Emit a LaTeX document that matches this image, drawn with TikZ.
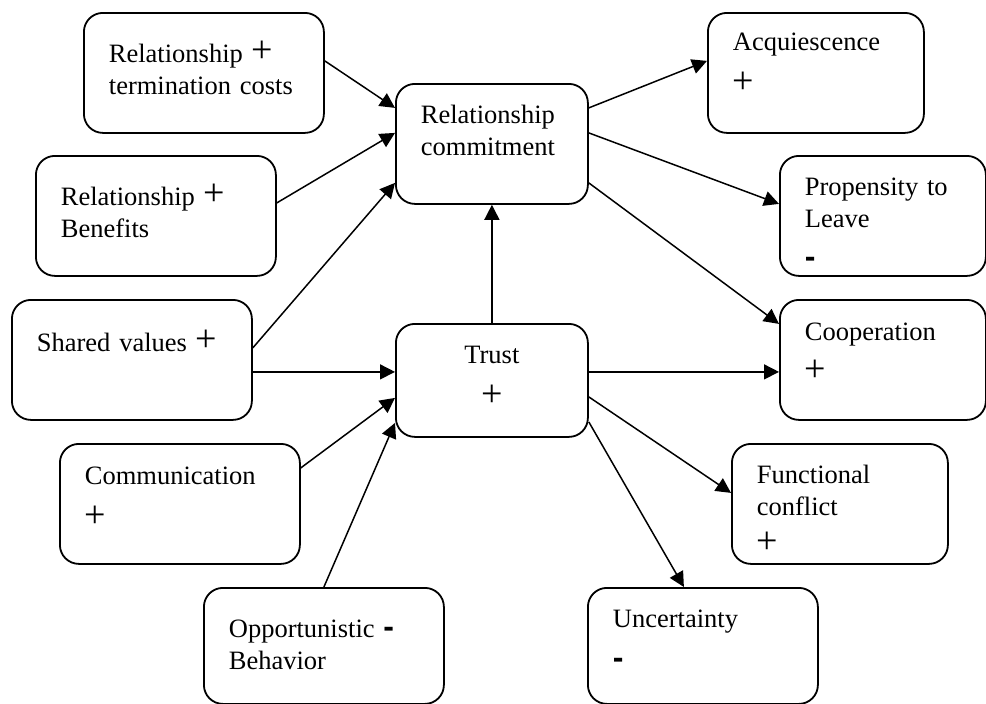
\documentclass[tikz,border=0pt]{standalone}
\usepackage{fontspec}
\setmainfont{Liberation Serif}
\newfontfamily\dashfont{Liberation Sans}
\usepackage{tikz}
\usetikzlibrary{arrows.meta}
\newcommand{\plussign}{{\fontsize{38}{38}\selectfont +}}
\newcommand{\minussign}{{\dashfont\bfseries\fontsize{32}{32}\selectfont -}}

\begin{document}
\begin{tikzpicture}[x=1pt, y=-1pt,
  factor/.style n args={3}{draw, line width=1.8pt, rounded corners=19pt, anchor=north west,
    align=left, inner xsep=25pt, inner ysep=0pt, text width={#1-50}, text height=#3,
    text depth={#2-#3}, font=\fontsize{26.5}{32}\selectfont},
  link/.style={line width=1.5pt, -{Triangle[length=15pt,width=15pt]}}]
\useasboundingbox (0,0) rectangle (986,704);
\node[factor={240}{120}{50}] (termcost) at (83,12) {Relationship \plussign\\termination costs};
\node[factor={240}{120}{50}] (benefits) at (35,155) {Relationship \plussign\\Benefits};
\node[factor={240}{120}{52}] (shared) at (11,299) {Shared values \plussign};
\node[factor={240}{120}{41}] (comm) at (59,443) {Communication\\[10.5pt]\plussign};
\node[factor={240}{116}{50}] (opport) at (203,587) {Opportunistic \minussign\\Behavior};
\node[factor={192}{120}{40}] (commit) at (395,83) {Relationship\\commitment};
\node[factor={192}{113}{40}, align=center] (trust) at (395,323) {Trust\\[10.5pt]\plussign};
\node[factor={216}{120}{38}] (acq) at (707,12) {Acquiescence\\[10.5pt]\plussign};
\node[factor={206}{120}{40}] (prop) at (779,155) {Propensity to\\Leave\\[7.6pt]\minussign};
\node[factor={206}{120}{41}] (coop) at (779,299) {Cooperation\\[8.6pt]\plussign};
\node[factor={216}{120}{40}] (func) at (731,443) {Functional\\conflict\\[5.6pt]\plussign};
\node[factor={230}{116}{40}] (uncert) at (587,587) {Uncertainty\\[8.6pt]\minussign};

\draw[link] ([yshift=12pt]termcost.east) -- ([yshift=36pt]commit.west);
\draw[link] ([yshift=13pt]benefits.east) -- ([yshift=11pt]commit.west);
\draw[link] ([yshift=12pt]shared.east) -- ([yshift=-39pt]commit.west);
\draw[link] ([yshift=-12pt]shared.east) -- ([yshift=8.5pt]trust.west);
\draw[link] ([yshift=36pt]comm.east) -- ([yshift=-17.5pt]trust.west);
\draw[link] (opport.north) -- ([yshift=-42.5pt]trust.west);
\draw[link] (trust) -- (commit);
\draw[link] ([yshift=36pt]commit.east) -- ([yshift=12pt]acq.west);
\draw[link] ([yshift=11pt]commit.east) -- ([yshift=12pt]prop.west);
\draw[link] ([yshift=-39pt]commit.east) -- ([yshift=36pt]coop.west);
\draw[link] ([yshift=8.5pt]trust.east) -- ([yshift=-12pt]coop.west);
\draw[link] ([yshift=-16.5pt]trust.east) -- ([yshift=11pt]func.west);
\draw[link] ([yshift=-41.5pt]trust.east) -- ([xshift=-19pt]uncert.north);
\end{tikzpicture}
\end{document}
